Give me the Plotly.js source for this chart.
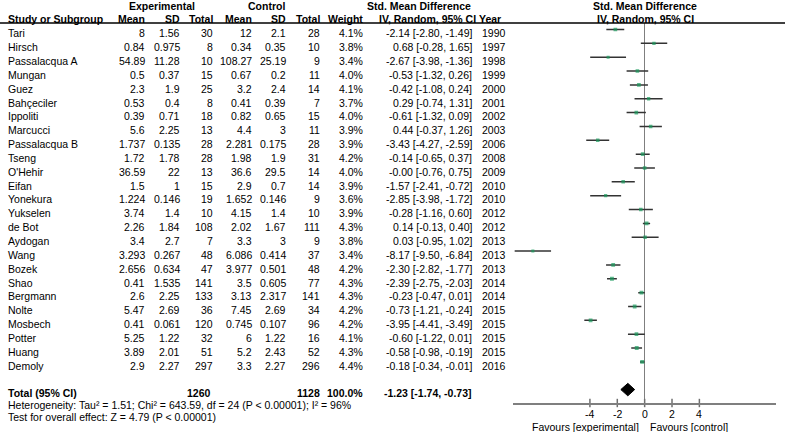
<!DOCTYPE html>
<html>
<head>
<meta charset="utf-8">
<script src="https://cdn.plot.ly/plotly-3.0.1.min.js"></script>
<style>html,body{margin:0;padding:0;background:#fff;}#chart{width:785px;height:432px;}</style>
</head>
<body>
<div id="chart"></div>
<script>
var studies = ["Tari","Hirsch","Passalacqua A","Mungan","Guez","Bahçeciler","Ippoliti","Marcucci","Passalacqua B","Tseng","O'Hehir","Eifan","Yonekura","Yukselen","de Bot","Aydogan","Wang","Bozek","Shao","Bergmann","Nolte","Mosbech","Potter","Huang","Demoly"];
var expMean = ["8","0.84","54.89","0.5","2.3","0.53","0.39","5.6","1.737","1.72","36.59","1.5","1.224","3.74","2.26","3.4","3.293","2.656","0.41","2.6","5.47","0.41","5.25","3.89","2.9"];
var expSD = ["1.56","0.975","11.28","0.37","1.9","0.4","0.71","2.25","0.135","1.78","22","1","0.146","1.4","1.84","2.7","0.267","0.634","1.535","2.25","2.69","0.061","1.22","2.01","2.27"];
var expN = [30,8,10,15,25,8,18,13,28,28,13,15,19,10,108,7,48,47,141,133,36,120,32,51,297];
var ctlMean = ["12","0.34","108.27","0.67","3.2","0.41","0.82","4.4","2.281","1.98","36.6","2.9","1.652","4.15","2.02","3.3","6.086","3.977","3.5","3.13","7.45","0.745","6","5.2","3.3"];
var ctlSD = ["2.1","0.35","25.19","0.2","2.4","0.39","0.65","3","0.175","1.9","29.5","0.7","0.146","1.4","1.67","3","0.414","0.501","0.605","2.317","2.69","0.107","1.22","2.43","2.27"];
var ctlN = [28,10,9,11,14,7,15,11,28,31,14,14,9,10,111,9,37,48,77,141,34,96,16,52,296];
var weight = [4.1,3.8,3.4,4.0,4.1,3.7,4.0,3.9,3.9,4.2,4.0,3.9,3.6,3.9,4.3,3.8,3.4,4.2,4.3,4.3,4.2,4.2,4.1,4.3,4.4];
var smd = [-2.14,0.68,-2.67,-0.53,-0.42,0.29,-0.61,0.44,-3.43,-0.14,-0.00,-1.57,-2.85,-0.28,0.14,0.03,-8.17,-2.30,-2.39,-0.23,-0.73,-3.95,-0.60,-0.58,-0.18];
var ciLow = [-2.80,-0.28,-3.98,-1.32,-1.08,-0.74,-1.32,-0.37,-4.27,-0.65,-0.76,-2.41,-3.98,-1.16,-0.13,-0.95,-9.50,-2.82,-2.75,-0.47,-1.21,-4.41,-1.22,-0.98,-0.34];
var ciHigh = [-1.49,1.65,-1.36,0.26,0.24,1.31,0.09,1.26,-2.59,0.37,0.75,-0.72,-1.72,0.60,0.40,1.02,-6.84,-1.77,-2.03,0.01,-0.24,-3.49,0.01,-0.19,-0.01];
var years = [1990,1997,1998,1999,2000,2001,2002,2003,2006,2008,2009,2010,2010,2012,2012,2013,2013,2013,2014,2014,2015,2015,2015,2015,2016];

var totalExpN = 1260, totalCtlN = 1128, totalWeight = "100.0%";
var pooled = -1.23, pooledLow = -1.74, pooledHigh = -0.73;
var hetText = "Heterogeneity: Tau² = 1.51; Chi² = 643.59, df = 24 (P < 0.00001); I² = 96%";
var testText = "Test for overall effect: Z = 4.79 (P < 0.00001)";
var tickVals = [-4,-2,0,2,4];
var tickText = ["-4","-2","0","2","4"];

var W = 785, H = 432;
var FONT = "Liberation Sans, Arial, sans-serif";
var FS = 10.5;

function f2(v){ return (Object.is(v,-0) ? "-" : "") + v.toFixed(2); }
function px(x){ return x / W; }
function py(y){ return 1 - y / H; }

var rows = studies.map(function(_, i){ return i; });
var totalRow = 26;
var yBottom = 26.968, yTop = -0.469;

var annotations = [];
function ann(text, x, xanchor, y, yref, bold, yshift, xref){
  annotations.push({
    text: bold ? "<b>" + text + "</b>" : text,
    x: xref ? x : px(x), xref: xref || "paper", xanchor: xanchor,
    y: y, yref: yref, yanchor: "middle", yshift: yshift || 0,
    showarrow: false, borderpad: 0, borderwidth: 0,
    font: {family: FONT, size: FS, color: "#000"}
  });
}
var RS = -3.8;
// header row 1
ann("Experimental", 161.5, "center", py(5.5), "paper", true);
ann("Control", 266.5, "center", py(5.5), "paper", true);
ann("Std. Mean Difference", 419, "center", py(5.5), "paper", true);
ann("Std. Mean Difference", 645, "center", py(5.5), "paper", true);
// header row 2
var h2 = py(18.5);
ann("Study or Subgroup", 8, "left", h2, "paper", true);
ann("Mean", 145, "right", h2, "paper", true);
ann("SD", 180, "right", h2, "paper", true);
ann("Total", 212.5, "right", h2, "paper", true);
ann("Mean", 252, "right", h2, "paper", true);
ann("SD", 286, "right", h2, "paper", true);
ann("Total", 320, "right", h2, "paper", true);
ann("Weight", 363, "right", h2, "paper", true);
ann("IV, Random, 95% CI", 476, "right", h2, "paper", true);
ann("Year", 479, "left", h2, "paper", true);
ann("IV, Random, 95% CI", 645, "center", h2, "paper", true);

rows.forEach(function(i){
  ann(studies[i], 8, "left", i, "y", false, RS);
  ann(expMean[i], 145, "right", i, "y", false, RS);
  ann(expSD[i], 180, "right", i, "y", false, RS);
  ann(String(expN[i]), 212.5, "right", i, "y", false, RS);
  ann(ctlMean[i], 252, "right", i, "y", false, RS);
  ann(ctlSD[i], 286, "right", i, "y", false, RS);
  ann(String(ctlN[i]), 320, "right", i, "y", false, RS);
  ann(weight[i].toFixed(1) + "%", 363, "right", i, "y", false, RS);
  ann(f2(smd[i]) + " [" + f2(ciLow[i]) + ", " + f2(ciHigh[i]) + "]", 472, "right", i, "y", false, RS);
  ann(String(years[i]), 482, "left", i, "y", false, RS);
});
ann("Total (95% CI)", 8, "left", totalRow, "y", true, RS);
ann(String(totalExpN), 211, "right", totalRow, "y", true, RS);
ann(String(totalCtlN), 320, "right", totalRow, "y", true, RS);
ann(totalWeight, 363, "right", totalRow, "y", true, RS);
ann(f2(pooled) + " [" + f2(pooledLow) + ", " + f2(pooledHigh) + "]", 472, "right", totalRow, "y", true, RS);
ann(hetText, 8, "left", py(404.5), "paper", false);
ann(testText, 8, "left", py(416.5), "paper", false);
ann("Favours [experimental]", 638.5, "right", py(427), "paper", false);
ann("Favours [control]", 650, "left", py(427), "paper", false);
// tick labels through the x scale
tickVals.forEach(function(v, k){
  ann(tickText[k], v, "center", py(413.5), "paper", false, 0, "x");
});

var ciTrace = {
  type: "scatter", mode: "markers",
  x: smd, y: rows,
  marker: {symbol: "square", color: "#1a9a5c", size: weight.map(function(w){ return w * 0.9; }), line: {width: 0}},
  error_x: {type: "data", symmetric: false,
    array: smd.map(function(v,i){ return ciHigh[i] - v; }),
    arrayminus: smd.map(function(v,i){ return v - ciLow[i]; }),
    color: "#333", thickness: 1.5, width: 0},
  hoverinfo: "skip", showlegend: false
};
var dh = 0.45;
var diamond = {
  type: "scatter", mode: "lines",
  x: [pooledLow, pooled, pooledHigh, pooled, pooledLow],
  y: [totalRow, totalRow - dh, totalRow, totalRow + dh, totalRow],
  fill: "toself", fillcolor: "#000", line: {color: "#000", width: 1},
  hoverinfo: "skip", showlegend: false
};
var tickMarks = {
  type: "scatter", mode: "markers",
  x: tickVals, y: tickVals.map(function(){ return yBottom; }),
  marker: {symbol: "line-ns", size: 6, line: {color: "#6f6f6f", width: 1.5}},
  cliponaxis: false, hoverinfo: "skip", showlegend: false
};

var layout = {
  width: W, height: H,
  margin: {l: 0, r: 0, t: 0, b: 0},
  paper_bgcolor: "#fff", plot_bgcolor: "#fff",
  showlegend: false,
  font: {family: FONT, size: FS, color: "#000"},
  xaxis: {
    domain: [px(513.3), px(776)],
    range: [-9.6, 9.6],
    showgrid: false,
    zeroline: true, zerolinecolor: "#7f7f7f", zerolinewidth: 1.5,
    showline: true, linecolor: "#7f7f7f", linewidth: 1.5,
    ticks: "", showticklabels: false,
    fixedrange: true
  },
  yaxis: {
    domain: [py(403), py(23)],
    range: [yBottom, yTop],
    visible: false, showgrid: false, zeroline: false,
    fixedrange: true
  },
  shapes: [
    {type: "line", xref: "paper", yref: "paper", x0: 0, x1: 1, y0: py(23), y1: py(23),
     line: {color: "#000", width: 1.5}}
  ],
  annotations: annotations
};

Plotly.newPlot("chart", [ciTrace, diamond, tickMarks], layout, {staticPlot: true, displayModeBar: false});
</script>
</body>
</html>
